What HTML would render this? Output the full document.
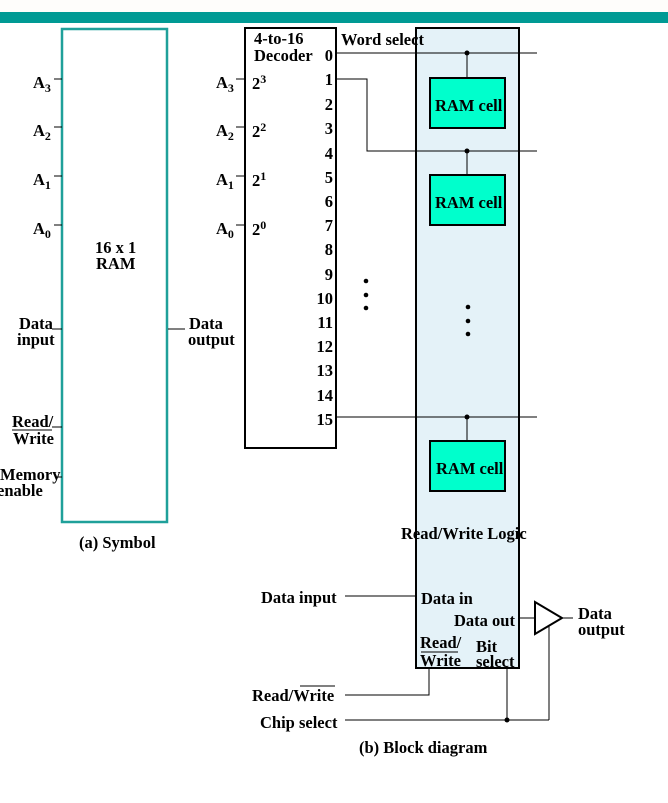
<!DOCTYPE html>
<html><head><style>
body{margin:0;background:#fff;width:668px;height:798px;overflow:hidden}
svg text{font-family:"Liberation Serif",serif;font-weight:bold;font-size:16.5px;fill:#000}
</style></head><body>
<svg width="668" height="798" xmlns="http://www.w3.org/2000/svg">
<rect x="0" y="0" width="668" height="12" fill="#fefdfb"/>
<rect x="0" y="12" width="668" height="11" fill="#009a94"/>
<!-- Symbol -->
<rect x="62" y="29" width="105" height="493" fill="#fff" stroke="#1fa09a" stroke-width="2.5"/>
<g stroke="#000" stroke-width="1">
<line x1="54" y1="79" x2="62" y2="79"/><line x1="54" y1="127" x2="62" y2="127"/>
<line x1="54" y1="176" x2="62" y2="176"/><line x1="54" y1="225" x2="62" y2="225"/>
<line x1="52" y1="329" x2="62" y2="329"/><line x1="52" y1="427" x2="62" y2="427"/>
<line x1="56" y1="477" x2="62" y2="477"/><line x1="168" y1="329" x2="185" y2="329"/>
</g>
<text x="33" y="88">A<tspan font-size="12" dy="4">3</tspan></text>
<text x="33" y="136">A<tspan font-size="12" dy="4">2</tspan></text>
<text x="33" y="185">A<tspan font-size="12" dy="4">1</tspan></text>
<text x="33" y="234">A<tspan font-size="12" dy="4">0</tspan></text>
<text x="95" y="253">16 x 1</text><text x="96" y="269">RAM</text>
<text x="19" y="329">Data</text><text x="17" y="345">input</text>
<text x="12" y="427">Read/</text><text x="13" y="444">Write</text>
<line x1="12" y1="430" x2="52" y2="430" stroke="#000"/>
<text x="0" y="480">Memory</text><text x="-3" y="496">enable</text>
<text x="189" y="329">Data</text><text x="188" y="345">output</text>
<text x="79" y="548">(a) Symbol</text>
<!-- Decoder -->
<rect x="245" y="28" width="91" height="420" fill="#fff" stroke="#000" stroke-width="2"/>
<g stroke="#000" stroke-width="1">
<line x1="236" y1="79" x2="245" y2="79"/><line x1="236" y1="127" x2="245" y2="127"/>
<line x1="236" y1="176" x2="245" y2="176"/><line x1="236" y1="225" x2="245" y2="225"/>
</g>
<text x="216" y="88">A<tspan font-size="12" dy="4">3</tspan></text>
<text x="216" y="136">A<tspan font-size="12" dy="4">2</tspan></text>
<text x="216" y="185">A<tspan font-size="12" dy="4">1</tspan></text>
<text x="216" y="234">A<tspan font-size="12" dy="4">0</tspan></text>
<text x="252" y="89">2<tspan font-size="12" dy="-6">3</tspan></text>
<text x="252" y="137">2<tspan font-size="12" dy="-6">2</tspan></text>
<text x="252" y="186">2<tspan font-size="12" dy="-6">1</tspan></text>
<text x="252" y="235">2<tspan font-size="12" dy="-6">0</tspan></text>
<text x="254" y="44">4-to-16</text><text x="254" y="61">Decoder</text>
<g text-anchor="end">
<text x="333" y="61">0</text><text x="333" y="85">1</text><text x="333" y="110">2</text><text x="333" y="134">3</text>
<text x="333" y="159">4</text><text x="333" y="183">5</text><text x="333" y="207">6</text><text x="333" y="231">7</text>
<text x="333" y="255">8</text><text x="333" y="280">9</text><text x="333" y="304">10</text><text x="333" y="328">11</text>
<text x="333" y="352">12</text><text x="333" y="376">13</text><text x="333" y="401">14</text><text x="333" y="425">15</text>
</g>
<circle cx="366" cy="281" r="2.3"/><circle cx="366" cy="295" r="2.3"/><circle cx="366" cy="308" r="2.3"/>
<!-- Blue block -->
<rect x="416" y="28" width="103" height="640" fill="#e4f2f8" stroke="#000" stroke-width="2"/>
<text x="341" y="45">Word select</text>
<g stroke="#000" stroke-width="1" fill="none">
<line x1="336" y1="53" x2="537" y2="53"/>
<polyline points="336,79 367,79 367,151 537,151"/>
<line x1="336" y1="417" x2="537" y2="417"/>
<line x1="467" y1="53" x2="467" y2="78"/><line x1="467" y1="151" x2="467" y2="175"/><line x1="467" y1="417" x2="467" y2="441"/>
</g>
<circle cx="467" cy="53" r="2.5"/><circle cx="467" cy="151" r="2.5"/><circle cx="467" cy="417" r="2.5"/>
<g fill="#00ffcc" stroke="#000" stroke-width="2">
<rect x="430" y="78" width="75" height="50"/><rect x="430" y="175" width="75" height="50"/><rect x="430" y="441" width="75" height="50"/>
</g>
<text x="435" y="111">RAM cell</text><text x="435" y="208">RAM cell</text><text x="436" y="474">RAM cell</text>
<circle cx="468" cy="307" r="2.3"/><circle cx="468" cy="321" r="2.3"/><circle cx="468" cy="334" r="2.3"/>
<text x="401" y="539">Read/Write Logic</text>
<text x="421" y="604">Data in</text>
<text x="454" y="626">Data out</text>
<text x="420" y="648">Read/</text><text x="420" y="666">Write</text>
<line x1="421" y1="652" x2="458" y2="652" stroke="#000"/>
<text x="476" y="652">Bit</text><text x="476" y="667">select</text>
<!-- bottom wiring -->
<g stroke="#000" stroke-width="1" fill="none">
<line x1="345" y1="596" x2="416" y2="596"/>
<line x1="519" y1="618" x2="535" y2="618"/>
<polygon points="535,602 535,634 562,618" stroke-width="2" fill="#fff"/>
<line x1="562" y1="618" x2="573" y2="618"/>
<polyline points="429,668 429,695 345,695"/>
<line x1="345" y1="720" x2="549" y2="720"/>
<line x1="507" y1="668" x2="507" y2="720"/>
<line x1="549" y1="626" x2="549" y2="720"/>
</g>
<circle cx="507" cy="720" r="2.5"/>
<text x="578" y="619">Data</text><text x="578" y="635">output</text>
<text x="261" y="603">Data input</text>
<text x="252" y="701">Read/Write</text>
<line x1="300" y1="686" x2="335" y2="686" stroke="#000"/>
<text x="260" y="728">Chip select</text>
<text x="359" y="753">(b) Block diagram</text>
</svg>
</body></html>
